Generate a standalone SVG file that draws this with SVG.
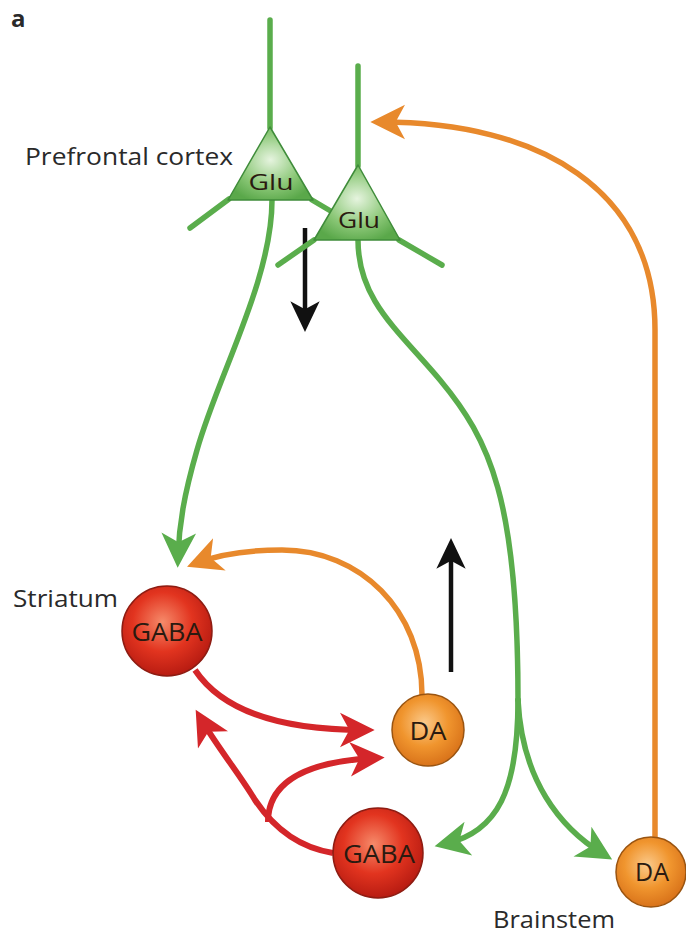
<svg xmlns="http://www.w3.org/2000/svg" width="686" height="935" viewBox="0 0 686 935">
<defs>
<style>
.lbl{font-family:"Open Sans","Noto Sans","Liberation Sans",sans-serif;fill:#2a2a2a;}
.in{font-family:"Open Sans","Noto Sans","Liberation Sans",sans-serif;fill:#2a1a10;text-anchor:middle;}
.g{fill:none;stroke:#5aad4c;stroke-width:5.5;stroke-linecap:round;}
.o{fill:none;stroke:#e8892c;stroke-width:5.5;}
.r{fill:none;stroke:#d4262a;stroke-width:6;}
.k{fill:none;stroke:#111;stroke-width:4.5;}
</style>
<radialGradient id="gRed" cx="0.45" cy="0.4" r="0.6">
<stop offset="0" stop-color="#f68a6a"/>
<stop offset="0.55" stop-color="#e2341f"/>
<stop offset="1" stop-color="#b81c12"/>
</radialGradient>
<radialGradient id="gOr" cx="0.45" cy="0.4" r="0.6">
<stop offset="0" stop-color="#fbc98a"/>
<stop offset="0.55" stop-color="#f0952e"/>
<stop offset="1" stop-color="#d9731a"/>
</radialGradient>
<radialGradient id="gGr" cx="0.5" cy="0.45" r="0.6">
<stop offset="0" stop-color="#e6f4df"/>
<stop offset="0.6" stop-color="#8cc878"/>
<stop offset="1" stop-color="#5aa84a"/>
</radialGradient>
<marker id="aG" markerUnits="userSpaceOnUse" markerWidth="40" markerHeight="40" viewBox="-20 -15 30 30" refX="0" refY="0" orient="auto">
<path d="M8,0 L-18,-13 L-11,0 L-18,13 Z" fill="#5aad4c"/>
</marker>
<marker id="aO" markerUnits="userSpaceOnUse" markerWidth="40" markerHeight="40" viewBox="-20 -15 30 30" refX="0" refY="0" orient="auto">
<path d="M8,0 L-18,-13 L-11,0 L-18,13 Z" fill="#e8892c"/>
</marker>
<marker id="aR" markerUnits="userSpaceOnUse" markerWidth="40" markerHeight="40" viewBox="-20 -15 30 30" refX="0" refY="0" orient="auto">
<path d="M8,0 L-18,-13 L-11,0 L-18,13 Z" fill="#d4262a"/>
</marker>
<marker id="aK" markerUnits="userSpaceOnUse" markerWidth="40" markerHeight="40" viewBox="-20 -15 30 30" refX="0" refY="0" orient="auto">
<path d="M6,0 L-17,-11 L-11,0 L-17,11 Z" fill="#111"/>
</marker>
</defs>
<rect width="686" height="935" fill="#fff"/>
<text x="11" y="27" class="lbl" font-size="24" font-weight="bold" fill="#111">a</text>

<g id="connectors">
<path class="g" d="M272,200 C272,280 218,375 197,450 C184,495 179,525 178,557" marker-end="url(#aG)"/>
<path class="g" d="M358,240 C358,300 398,330 440,380 C490,440 518,500 518,700"/>
<path class="g" d="M518,700 C518,790 498,832 445,844" marker-end="url(#aG)"/>
<path class="g" d="M518,700 C522,780 560,828 603,854" marker-end="url(#aG)"/>
<path class="o" d="M655,838 L655,330 C655,190 540,122 381,122" marker-end="url(#aO)"/>
<path class="o" d="M422,695 C422,610 360,550 282,550 C240,550 215,556 197,563" marker-end="url(#aO)"/>
<path class="r" d="M195,670 C225,715 290,730 364,730" marker-end="url(#aR)"/>
<path class="r" d="M333,853 C300,848 275,830 255,800 C240,775 216,745 201,719" marker-end="url(#aR)"/>
<path class="r" d="M268,822 C268,785 300,762 374,758" marker-end="url(#aR)"/>
<path class="k" d="M305,228 L305,324" marker-end="url(#aK)"/>
<path class="k" d="M451,672 L451,546" marker-end="url(#aK)"/>
</g>

<g id="pfc1">
<path class="g" d="M270,20 L270,128 M229,199 L190,228 M312,200 L334,213"/>
<path d="M270,127 L313,200 L228,200 Z" fill="url(#gGr)" stroke="#3f8c3a" stroke-width="1.5" stroke-linejoin="round"/>
<text x="271" y="190" class="in" font-size="22" textLength="45" lengthAdjust="spacingAndGlyphs">Glu</text>
</g>
<g id="pfc2">
<path class="g" d="M358,66 L358,166 M314,240 L278,265 M399,240 L442,265"/>
<path d="M358,165 L400,240 L314,240 Z" fill="url(#gGr)" stroke="#3f8c3a" stroke-width="1.5" stroke-linejoin="round"/>
<text x="359" y="228" class="in" font-size="22" textLength="42" lengthAdjust="spacingAndGlyphs">Glu</text>
</g>
<text x="25" y="165" class="lbl" font-size="24" textLength="208" lengthAdjust="spacingAndGlyphs">Prefrontal cortex</text>

<text x="13" y="607" class="lbl" font-size="24" textLength="105" lengthAdjust="spacingAndGlyphs">Striatum</text>
<g id="gaba1">
<circle cx="167" cy="631" r="45" fill="url(#gRed)" stroke="#8e1c12" stroke-width="1.5"/>
<text x="167" y="641" class="in" font-size="25" textLength="71" lengthAdjust="spacingAndGlyphs">GABA</text>
</g>
<g id="da1">
<circle cx="428" cy="730" r="36" fill="url(#gOr)" stroke="#9a5410" stroke-width="1.5"/>
<text x="428" y="740" class="in" font-size="25" textLength="37" lengthAdjust="spacingAndGlyphs">DA</text>
</g>
<g id="gaba2">
<circle cx="378" cy="853" r="45" fill="url(#gRed)" stroke="#8e1c12" stroke-width="1.5"/>
<text x="379" y="863" class="in" font-size="25" textLength="72" lengthAdjust="spacingAndGlyphs">GABA</text>
</g>
<g id="da2">
<circle cx="651" cy="872" r="35" fill="url(#gOr)" stroke="#9a5410" stroke-width="1.5"/>
<text x="652" y="881" class="in" font-size="25" textLength="34" lengthAdjust="spacingAndGlyphs">DA</text>
</g>
<text x="493" y="928" class="lbl" font-size="24" textLength="122" lengthAdjust="spacingAndGlyphs">Brainstem</text>
</svg>
